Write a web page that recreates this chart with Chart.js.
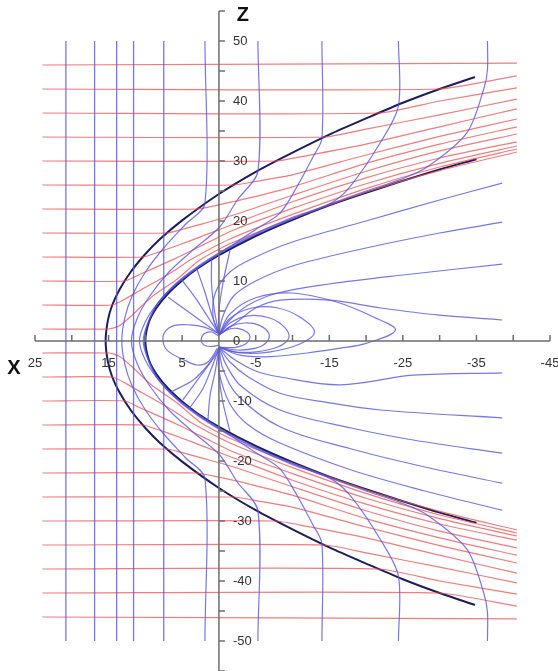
<!DOCTYPE html>
<html>
<head>
<meta charset="utf-8">
<script src="https://cdn.jsdelivr.net/npm/chart.js@4.4.0/dist/chart.umd.min.js"></script>
<style>
  html, body { margin: 0; padding: 0; background: #fff; }
  canvas { display: block; }
</style>
</head>
<body>
<canvas id="chart" width="558" height="671"></canvas>
<script>
// axis ticks
const xTickValues = [25, 20, 15, 10, 5, 0, -5, -10, -15, -20, -25, -30, -35, -40, -45];
const xTickLabels = [25, 15, 5, -5, -15, -25, -35, -45];
const zTickValues = [55, 50, 45, 40, 35, 30, 25, 20, 15, 10, 5, 0, -5, -10, -15, -20, -25, -30, -35, -40, -45, -50, -55];
const zTickLabels = [50, 40, 30, 20, 10, 0, -10, -20, -30, -40, -50];

// bow shock and magnetopause (upper half, x / z pairs, mirrored below)
const bowShock = [[-34.8, 44], [-30, 42], [-25, 39.7], [-20, 37.1], [-15, 34.4], [-10, 31.4], [-5, 28.2], [0, 24.5],
  [5, 20.1], [8, 17], [10, 14.5], [12, 11.5], [13.5, 8.6], [14.5, 6], [15.1, 3.4], [15.4, 0]];
const magnetopause = [[-35, 30.3], [-30, 28.6], [-25, 26.7], [-20, 24.7], [-15, 22.6], [-10, 20.2], [-5, 17.5],
  [0, 14.3], [3, 12], [5, 10.1], [7, 7.8], [8.5, 5.5], [9.5, 3.2], [10, 0]];

// solar wind flow lines (red), upper half
const flowLines = [
  [[24, 2], [15, 2], [13.6, 2.5], [11.8, 4.3], [9.2, 7.3], [5.7, 10.3], [2.6, 13.5], [-1.5, 16.2], [-10, 20.4], [-20, 24.8], [-30, 28.4], [-40.5, 31.5]],
  [[24, 6], [14.5, 6], [12.6, 7.1], [10.5, 8.6], [8.3, 10.1], [6, 11.8], [3.8, 13.6], [-1.5, 17], [-10, 21.1], [-20, 25.4], [-30, 29], [-40.5, 32]],
  [[24, 10], [12.8, 10], [10.6, 11.2], [8, 12.6], [5, 14.3], [2, 16.1], [-2, 18.5], [-10, 22.1], [-20, 26.2], [-30, 29.6], [-40.5, 32.5]],
  [[24, 14], [10.4, 14], [8, 14.9], [5, 16.2], [2, 17.6], [-2, 19.5], [-10, 23.2], [-20, 27.2], [-30, 30.5], [-40.5, 33.2]],
  [[24, 18], [7.1, 18], [5, 18.6], [2, 19.6], [-2, 21], [-10, 24.3], [-20, 28.3], [-30, 31.7], [-40.5, 34.5]],
  [[24, 22], [3, 22], [0, 22.7], [-4, 23.8], [-10, 25.7], [-20, 29.6], [-30, 32.8], [-40.5, 35.7]],
  [[24, 26], [-2, 26], [-5, 26.6], [-10, 27.7], [-20, 31], [-30, 34.1], [-40.5, 37]],
  [[24, 30], [-7.7, 30], [-12, 30.9], [-20, 32.8], [-30, 35.7], [-40.5, 38.7]],
  [[24, 34], [-14.3, 34], [-20, 35.3], [-30, 37.7], [-40.5, 40.3]],
  [[24, 38], [-21.7, 38], [-30, 40], [-40.5, 42.2]],
  [[24, 42], [-29.9, 42], [-40.5, 44.2]],
  [[24, 46], [-40.5, 46.3]]
];

// interplanetary field lines (blue), straight ones full length
const imfStraight = [20.8, 16.9, 13.9, 11.6];
// one stops at the magnetopause (upper part, mirrored below)
const imfToMagnetopause = [[7.5, 50], [7.5, 7.3]];
// draped ones, upper half from z = 50 down to the equator
const imfDraped = [
  [[1.9, 50], [1.9, 22.9], [4.5, 19.5], [7.5, 15.5], [10, 11.5], [11.8, 7.5], [12.8, 3.8], [13.2, 0]],
  [[-5.3, 50], [-5.3, 28.3], [-2.5, 23.5], [-0.1, 19], [3.5, 15.2], [6.8, 11.5], [9.4, 7.5], [11.1, 3.8], [11.9, 0]],
  [[-14, 50], [-14, 33.8], [-12.8, 30.7], [-10.6, 25.7], [-8.3, 21.3], [-5, 18.6], [-1.5, 15.7], [2.5, 12.6], [5.7, 9.6], [8.3, 6.3], [10, 3.2], [10.8, 0]],
  [[-24.4, 50], [-24.4, 39.2], [-21.9, 33], [-17.8, 25.7], [-15.1, 22.9], [-10, 20.6], [-5, 17.9], [0, 14.7], [5, 10.5], [8.2, 6.5], [9.6, 3.2], [10.3, 0]],
  [[-36.5, 50], [-36.5, 45.2], [-36, 42], [-33.7, 34.7], [-28.3, 29], [-24.6, 26.9], [-20, 25], [-15, 22.8], [-10, 20.4], [-5, 17.7], [0, 14.5], [5, 10.3], [8, 6.8], [9.5, 3.4], [10.15, 0]]
];

// magnetospheric field lines (blue), each from the Earth
const tailLines = [
  [[0, 1], [0.8, 4], [0.5, 8], [-1.5, 11.5], [-5, 14], [-10, 16.5], [-20, 20], [-30, 23.5], [-38.5, 26.3]],
  [[0, 1], [-0.5, 4], [-2, 7.5], [-5, 10], [-10, 12.5], [-20, 15.5], [-30, 18], [-38.5, 19.8]],
  [[0, 1], [-1.5, 3.5], [-4, 6], [-8, 8], [-15, 9.5], [-25, 11], [-38.5, 12.8]],
  [[0, 1], [-2.5, 3.2], [-5, 5.5], [-8.3, 6.8], [-15, 6.8], [-22, 5.5], [-30, 4.3], [-38.5, 3.5]],
  [[0, -1], [-2, -3], [-5, -5], [-8.3, -6], [-16.5, -7.3], [-26.4, -5.7], [-38.5, -5.3]],
  [[0, -1], [-1.5, -3.5], [-4, -6], [-8.3, -8.7], [-15, -10.3], [-21.9, -11.5], [-38.5, -12.8]],
  [[0, -1], [-1, -4], [-3, -7.5], [-8.3, -11.5], [-18, -14.5], [-26.4, -16.5], [-38.5, -18.7]],
  [[0, -1], [-0.5, -4.5], [-2.5, -9], [-8.3, -14.3], [-18, -18], [-28, -21], [-38.5, -23.7]],
  [[0, -1], [0, -5], [-1.5, -10.5], [-4, -14], [-8.3, -17], [-18, -21.5], [-28, -25], [-38.5, -28.2]]
];
const closedLoops = [
  [[0, 1], [-1.5, 4.5], [-5, 7.2], [-10, 8], [-16, 6.5], [-21, 4], [-24, 1.8], [-20, -0.4], [-16.5, -1.2], [-12, -2], [-7, -2.6], [-3, -2.4], [0, -1]],
  [[0, 1], [-1.5, 3.8], [-4.5, 5.5], [-8, 5.5], [-11, 4], [-13, 1.5], [-11, -0.5], [-7, -1.8], [-3, -2], [0, -1]],
  [[0, 1], [-1.5, 3], [-4, 4.2], [-7, 3.8], [-9, 2.2], [-9.5, 0.5], [-8, -1], [-5, -1.8], [-2, -1.8], [0, -1]],
  [[0, 1], [-1.5, 2.4], [-3.5, 3], [-5.5, 2.6], [-6.8, 1.2], [-6.5, -0.2], [-5, -1.2], [-2.5, -1.5], [0, -1]],
  [[0, 1], [-1.2, 1.9], [-2.5, 2.1], [-3.8, 1.5], [-4.2, 0.5], [-3.5, -0.6], [-2, -1.1], [0, -1]],
  [[0.1, 1.3], [2, 2.3], [4, 2.7], [6, 2.6], [7.3, 1.6], [7.6, 0], [7, -1.6], [5, -3], [3, -4], [1.5, -3.5], [0.2, -1.2]],
  [[0, 0.8], [1, 1.5], [2, 1.2], [2.4, 0], [1.8, -0.8], [0.8, -0.9], [0, -0.7]]
];
const cuspLines = [
  [[0.1, 1.3], [6.9, 7.3]],
  [[-0.1, -1.5], [4.9, -9.8]],
  [[0, 1.2], [1.5, 4], [3.2, 7.2], [5, 10.1]],
  [[0, 1.2], [1, 4.5], [2, 8.5], [3, 12]],
  [[0, 1.2], [0.6, 5], [1, 9.5], [1, 13.6]],
  [[0, 1.2], [0, 5], [-0.6, 10], [-1.5, 15.1]],
  [[0, -1.2], [1.5, -4], [3.5, -6.5], [6.5, -8.5]],
  [[0, -1.2], [1, -4.5], [2.2, -8], [4, -11.2]],
  [[0, -1.2], [0.5, -5], [1.2, -9], [1.5, -13.2]],
  [[0, -1.2], [0, -5.5], [-0.5, -10], [-1.5, -15.1]]
];

const BLUE = 'rgba(85, 85, 230, 0.8)';
const RED = 'rgba(238, 80, 80, 0.75)';
const NAVY = '#1d1d5e';

function mirror(line) {
  return line.map(p => [p[0], -p[1]]);
}
function fullCurve(upper) {
  // upper half from the top down to z = 0, then its mirror image back out
  return upper.concat(mirror(upper).reverse().slice(1));
}
function lineSet(data, color, width, tension) {
  return {
    data: data,
    borderColor: color,
    borderWidth: width,
    pointRadius: 0,
    fill: false,
    tension: tension
  };
}

const datasets = [];
imfStraight.forEach(x => datasets.push(lineSet([[x, 50], [x, -50]], BLUE, 1.3, 0)));
datasets.push(lineSet(imfToMagnetopause, BLUE, 1.3, 0));
datasets.push(lineSet(mirror(imfToMagnetopause), BLUE, 1.3, 0));
imfDraped.forEach(l => datasets.push(lineSet(fullCurve(l), BLUE, 1.2, 0.3)));
flowLines.forEach(l => {
  datasets.push(lineSet(l, RED, 1.2, 0.2));
  datasets.push(lineSet(mirror(l), RED, 1.2, 0.2));
});
tailLines.forEach(l => datasets.push(lineSet(l, BLUE, 1.2, 0.35)));
closedLoops.forEach(l => datasets.push(lineSet(l, BLUE, 1.2, 0.35)));
cuspLines.forEach(l => datasets.push(lineSet(l, BLUE, 1.2, 0.3)));
datasets.push(lineSet(fullCurve(magnetopause), NAVY, 2, 0.3));
datasets.push(lineSet(fullCurve(bowShock), NAVY, 2, 0.3));

// axes through the origin, drawn from the chart's scales
const crossAxes = {
  id: 'crossAxes',
  afterDatasetsDraw(chart) {
    const ctx = chart.ctx;
    const xs = chart.scales.x, zs = chart.scales.y;
    const x0 = xs.getPixelForValue(0), z0 = zs.getPixelForValue(0);
    ctx.save();
    ctx.strokeStyle = '#6e6e6e';
    ctx.lineWidth = 1.5;
    ctx.beginPath();
    ctx.moveTo(xs.getPixelForValue(25), z0);
    ctx.lineTo(xs.getPixelForValue(-45), z0);
    ctx.moveTo(x0, zs.getPixelForValue(55));
    ctx.lineTo(x0, zs.getPixelForValue(-55));
    xTickValues.forEach(v => {
      const p = xs.getPixelForValue(v);
      ctx.moveTo(p, z0);
      ctx.lineTo(p, z0 - 6);
    });
    zTickValues.forEach(v => {
      const p = zs.getPixelForValue(v);
      ctx.moveTo(x0, p);
      ctx.lineTo(x0 + 6, p);
    });
    ctx.stroke();

    ctx.fillStyle = '#333';
    ctx.font = '13px "Liberation Sans", Arial, sans-serif';
    ctx.textAlign = 'center';
    ctx.textBaseline = 'top';
    xTickLabels.forEach(v => ctx.fillText(String(v), xs.getPixelForValue(v), z0 + 16));
    ctx.textAlign = 'left';
    ctx.textBaseline = 'middle';
    zTickLabels.forEach(v => ctx.fillText(String(v), x0 + 14, zs.getPixelForValue(v)));

    ctx.fillStyle = '#111';
    ctx.font = 'bold 20px "Liberation Sans", Arial, sans-serif';
    ctx.textAlign = 'center';
    ctx.fillText('X', 14, z0 + 27);
    ctx.fillText('Z', x0 + 24, zs.getPixelForValue(54.3));
    ctx.restore();
  }
};

new Chart(document.getElementById('chart').getContext('2d'), {
  type: 'line',
  data: { datasets: datasets },
  options: {
    responsive: false,
    animation: false,
    layout: { padding: { left: 35, right: 8, top: 11, bottom: 0 } },
    plugins: { legend: { display: false }, tooltip: { enabled: false } },
    scales: {
      x: { type: 'linear', min: -45, max: 25, reverse: true, display: false },
      y: { type: 'linear', min: -55, max: 55, display: false }
    }
  },
  plugins: [crossAxes]
});
</script>
</body>
</html>
